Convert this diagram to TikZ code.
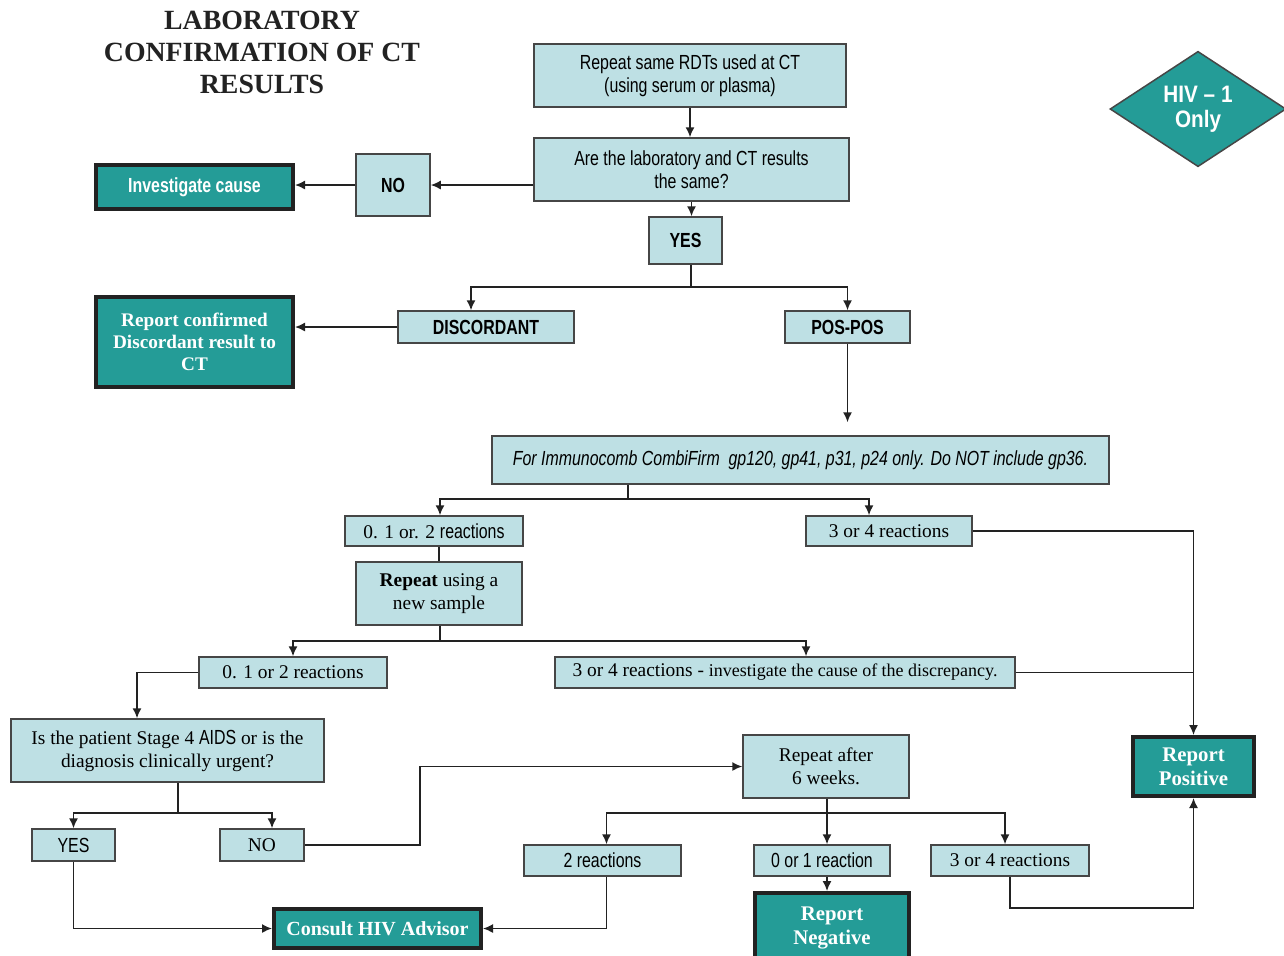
\documentclass[tikz,border=0pt]{standalone}
\usepackage{fontspec}
\setmainfont{Liberation Serif}
\newfontfamily\narrowsf[FakeStretch=0.78]{Liberation Sans}
\newfontfamily\diamondsf[FakeStretch=0.87]{Liberation Sans}
\usetikzlibrary{arrows.meta,shapes.geometric}

\definecolor{paleblue}{RGB}{190,224,228}
\definecolor{tealfill}{RGB}{36,156,151}
\definecolor{boxline}{RGB}{70,70,70}
\definecolor{darkline}{RGB}{34,34,34}

\newcommand{\nsf}{\narrowsf\fontsize{10.2}{11.5}\selectfont}
\newcommand{\smallser}{\fontsize{9}{11.5}\selectfont}

\tikzset{
	pale/.style={draw=boxline, fill=paleblue, line width=0.75pt, inner sep=1pt, align=center, font=\fontsize{9.7}{11.5}\selectfont},
	palesf/.style={pale, font=\nsf},
	palebf/.style={pale, font=\nsf\bfseries},
	result/.style={draw=darkline, fill=tealfill, line width=2pt, inner sep=1pt, align=center, text=white, font=\bfseries\fontsize{10}{11.5}\selectfont},
	link/.style={draw=darkline, line width=0.75pt},
	arr/.style={link, -{Latex[length=5pt,width=4.5pt]}},
}

\begin{document}
\begin{tikzpicture}[x=0.5pt, y=-0.5pt]
	%%%%% START %%%%%
	\useasboundingbox (0,0) rectangle (1284,955);
	
	\node[align=center, text=darkline, font=\bfseries\fontsize{13.9}{16}\selectfont] (title) at (262,52) {LABORATORY\\CONFIRMATION OF CT\\RESULTS};
	\node[diamond, draw=boxline, fill=tealfill, line width=0.75pt, minimum width=88pt, minimum height=54.5pt, inner sep=0pt, text=white, align=center, font=\diamondsf\bfseries\fontsize{11.9}{12.5}\selectfont] (hiv) at (1198,109) {HIV – 1\\Only};
	
	% first test
	\node[palesf, minimum width=156pt, minimum height=31.5pt] (rdt) at (690,75.5) {Repeat same RDTs used at CT\\(using serum or plasma)};
	\node[palesf, minimum width=157.5pt, minimum height=31.5pt] (same) at (691.5,169.5) {Are the laboratory and CT results\\the same?};
	\node[palebf, minimum width=37pt, minimum height=31pt] (no1) at (393,185) {NO};
	\node[result, font=\nsf\bfseries, minimum width=98.5pt, minimum height=22pt] (invest) at (194.5,187) {Investigate cause};
	\node[palebf, minimum width=36.5pt, minimum height=23.5pt] (yes1) at (685.5,240.5) {YES};
	\node[palebf, minimum width=88pt, minimum height=16pt] (disc) at (486,327) {DISCORDANT};
	\node[palebf, minimum width=62.5pt, minimum height=16pt] (pospos) at (847.5,327) {POS-POS};
	\node[result, font=\bfseries\fontsize{9.6}{11}\selectfont, minimum width=98.5pt, minimum height=45pt] (repdisc) at (194.5,342) {Report confirmed\\Discordant result to\\CT};
	
	% combifirm
	\node[palesf, font=\nsf\itshape, minimum width=308.5pt, minimum height=24pt] (immuno) at (800.5,460) {For Immunocomb CombiFirm \ gp120, gp41, p31, p24 only. Do NOT include gp36.};
	\node[pale, minimum width=89pt, minimum height=15pt] (r012) at (434,531) {0. 1 or. 2 {\nsf reactions}};
	\node[pale, minimum width=83pt, minimum height=15pt] (r34) at (889,531) {3 or 4 reactions};
	\node[pale, minimum width=83pt, minimum height=31.5pt] (rsample) at (439,593.5) {\textbf{Repeat} using a\\new sample};
	\node[pale, minimum width=94pt, minimum height=15.5pt] (r012b) at (293,672.5) {0. 1 or 2 reactions};
	\node[pale, minimum width=230pt, minimum height=15.5pt] (r34inv) at (785,672.5) {3 or 4 reactions - {\smallser investigate the cause of the discrepancy.}};
	
	% urgent or not
	\node[pale, minimum width=156.5pt, minimum height=31.5pt] (stage) at (167.5,750.5) {Is the patient Stage 4 {\nsf AIDS} or is the\\diagnosis clinically urgent?};
	\node[palesf, minimum width=41.5pt, minimum height=16pt] (yes2) at (73.5,845) {YES};
	\node[pale, minimum width=42pt, minimum height=16pt] (no2) at (262,845) {NO};
	\node[pale, minimum width=83pt, minimum height=31.5pt] (repeat6) at (826,766.5) {Repeat after\\6 weeks.};
	\node[palesf, minimum width=78.5pt, minimum height=15.5pt] (r2) at (602.5,860.5) {2 reactions};
	\node[palesf, minimum width=68pt, minimum height=15.5pt] (r01) at (822,860.5) {0 or 1 reaction};
	\node[pale, minimum width=79pt, minimum height=15.5pt] (r34b) at (1010,860.5) {3 or 4 reactions};
	
	\node[result, minimum width=103.5pt, minimum height=19.5pt] (consult) at (377.5,928.5) {Consult HIV Advisor};
	\node[result, font=\bfseries\fontsize{10.4}{12}\selectfont, minimum width=77pt, minimum height=35pt] (repneg) at (832,928) {Report\\Negative};
	\node[result, font=\bfseries\fontsize{10.4}{12}\selectfont, minimum width=60.5pt, minimum height=29.5pt] (reppos) at (1193.5,766.5) {Report\\Positive};
	
	% connectors
	\draw[arr] (rdt.south) -- (rdt.south |- same.north);
	\draw[arr] (no1.east -| same.west) -- (no1.east);
	\draw[arr] (no1.west) -- (no1.west -| invest.east);
	\draw[arr] (same.south) -- (same.south |- yes1.north);
	
	\coordinate (split1) at (691,287);
	\draw[link] (split1 |- yes1.south) -- (split1);
	\draw[arr] (split1) -| ([xshift=-7.5pt]disc.north);
	\draw[arr] (split1) -| (pospos.north);
	\draw[arr] (disc.west) -- (disc.west -| repdisc.east);
	\draw[arr, shorten >=6.5pt] (pospos.south) -- (pospos.south |- immuno.north);
	
	\coordinate (split2) at (628,499);
	\draw[link] (split2 |- immuno.south) -- (split2);
	\draw[arr] (split2) -| ([xshift=3pt]r012.north);
	\draw[arr] (split2) -| ([xshift=-10pt]r34.north);
	\draw[arr] (r34.east) -| (reppos.north);
	\draw[link] (rsample.north) -- (rsample.north |- r012.south);
	
	\coordinate (split3) at (440,641);
	\draw[link] (split3 |- rsample.south) -- (split3);
	\draw[arr] (split3) -| (r012b.north);
	\draw[arr] (split3) -| ([xshift=10.5pt]r34inv.north);
	\draw[link] (r34inv.east) -- (r34inv.east -| reppos.north);
	\draw[arr] (r012b.west) -| ([xshift=-15.25pt]stage.north);
	
	\coordinate (split4) at (178,813);
	\draw[link] (split4 |- stage.south) -- (split4);
	\draw[arr] (split4) -| (yes2.north);
	\draw[arr] (split4) -| ([xshift=5pt]no2.north);
	\draw[arr] (no2.east) -- ++(115,0) |- (repeat6.west);
	
	\coordinate (split5) at (827,813);
	\draw[arr] (split5 |- repeat6.south) -- (split5 |- r01.north);
	\draw[arr] (split5) -| ([xshift=2pt]r2.north);
	\draw[arr] (split5) -| ([xshift=-2.5pt]r34b.north);
	\draw[arr] (split5 |- r01.south) -- (split5 |- repneg.north);
	\draw[arr] (yes2.south) |- (consult.west);
	\draw[arr] ([xshift=2pt]r2.south) |- (consult.east);
	\coordinate (turn6) at (1193.5,908);
	\draw[arr] (r34b.south) |- (turn6) -- (reppos.south);
	
	%%%%% END %%%%%
\end{tikzpicture}
\end{document}
